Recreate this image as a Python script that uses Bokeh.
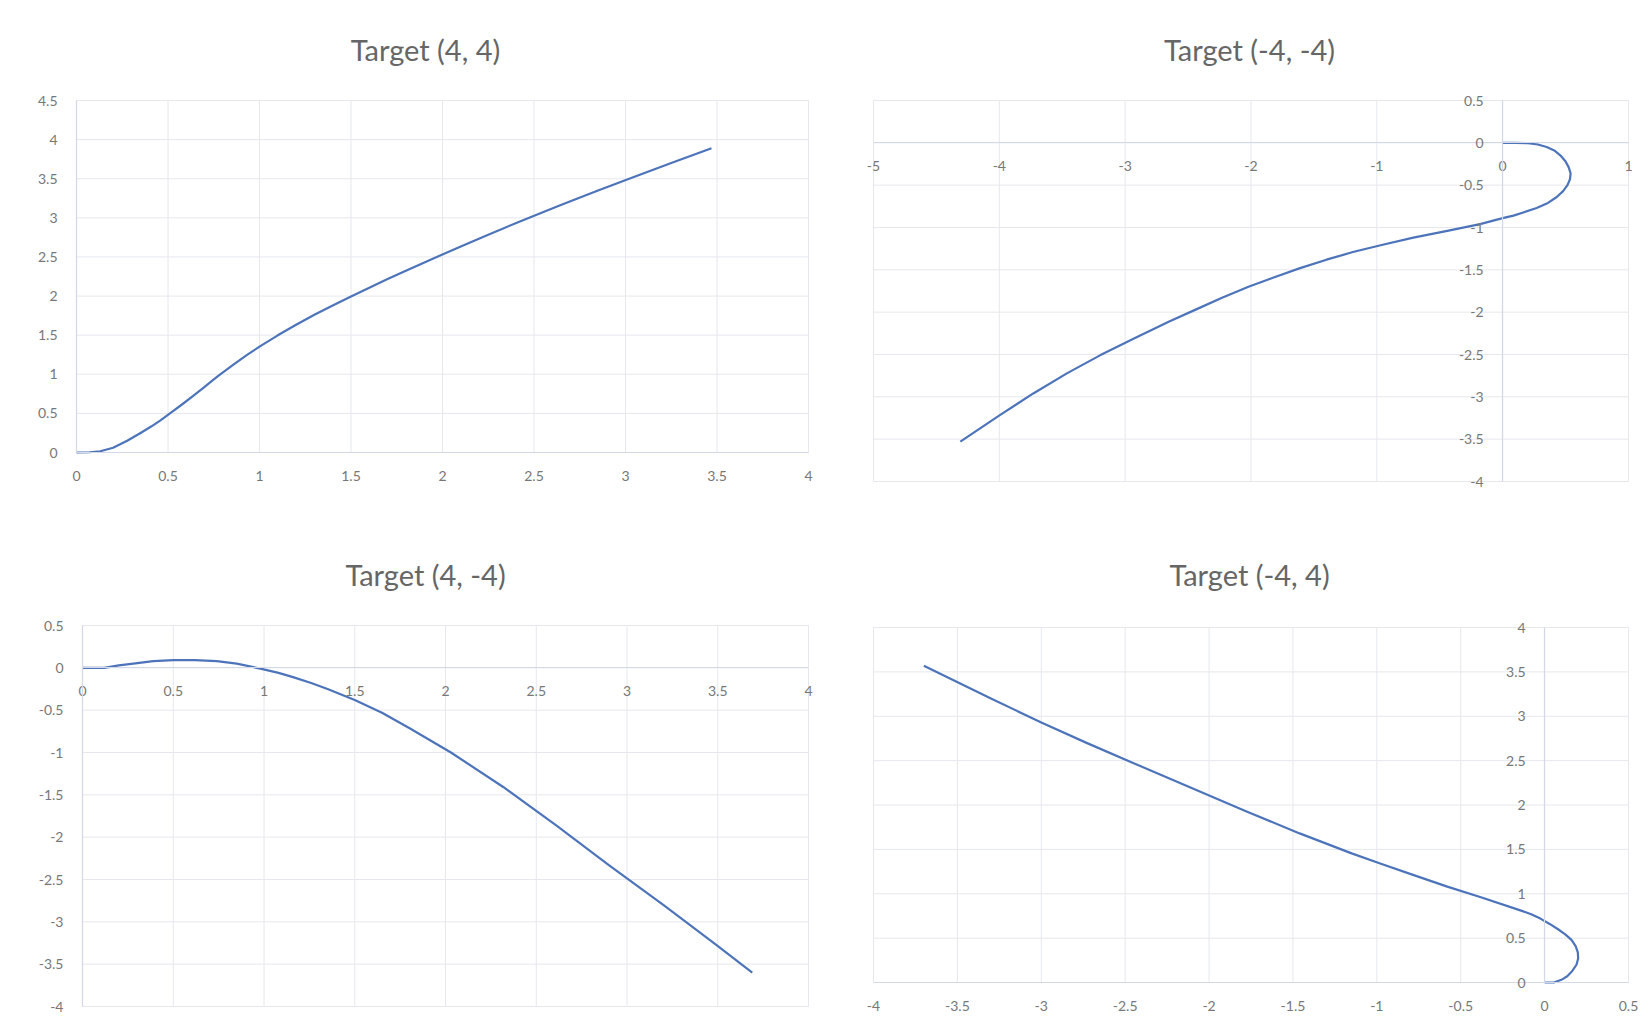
from bokeh.plotting import figure
from bokeh.layouts import column, row
from bokeh.models import Range1d, FixedTicker
from bokeh.embed import file_html
from bokeh.resources import INLINE

# ---------------- data ----------------
titles = ["Target (4, 4)", "Target (-4, -4)", "Target (4, -4)", "Target (-4, 4)"]

x1 = [0, 0.07, 0.13, 0.2, 0.277, 0.35, 0.41, 0.459, 0.52, 0.58, 0.641, 0.7, 0.74, 0.78, 0.85, 0.93,
      1.0, 1.1, 1.2, 1.3, 1.4, 1.5, 1.6, 1.7, 1.8, 1.95, 2.1, 2.25, 2.45, 2.65, 2.85, 3.02, 3.25, 3.47]
y1 = [0, 0.003, 0.016, 0.06, 0.15, 0.25, 0.335, 0.41, 0.515, 0.62, 0.73, 0.84, 0.915, 0.99, 1.11, 1.245,
      1.353, 1.498, 1.633, 1.76, 1.88, 1.995, 2.107, 2.217, 2.325, 2.48, 2.635, 2.785, 2.98, 3.168, 3.35, 3.5, 3.7, 3.89]

x2 = [0, 0.1, 0.2, 0.28, 0.35, 0.41, 0.46, 0.5, 0.525, 0.54, 0.535, 0.515, 0.48, 0.43, 0.36, 0.27,
      0.17, 0.086, 0, -0.18, -0.44, -0.71, -0.97, -1.19,
      -1.4, -1.61, -1.82, -2.02, -2.23, -2.44, -2.65, -2.93, -3.2, -3.46, -3.73, -3.99, -4.31]
y2 = [0, 0.0, -0.005, -0.02, -0.05, -0.09, -0.15, -0.22, -0.29, -0.36, -0.43, -0.5, -0.57, -0.64, -0.71, -0.77,
      -0.82, -0.86, -0.89, -0.96, -1.04, -1.12, -1.21, -1.29,
      -1.38, -1.48, -1.59, -1.7, -1.83, -1.97, -2.11, -2.31, -2.51, -2.72, -2.96, -3.21, -3.53]

x3 = [0, 0.12, 0.2, 0.28, 0.39, 0.5, 0.62, 0.74, 0.85, 0.98, 1.08, 1.16, 1.26, 1.35, 1.5, 1.65, 1.8,
      2.03, 2.32, 2.61, 2.9, 3.2, 3.49, 3.69]
y3 = [0, 0.0, 0.03, 0.05, 0.08, 0.09, 0.09, 0.08, 0.05, -0.01, -0.06, -0.11, -0.18, -0.25, -0.38, -0.53, -0.71,
      -1.0, -1.41, -1.86, -2.33, -2.8, -3.27, -3.6]

x4 = [0, 0.055, 0.1, 0.135, 0.165, 0.19, 0.2, 0.198, 0.185, 0.16, 0.125, 0.08, 0.03, -0.025, -0.08,
      -0.14, -0.38, -0.58, -0.78, -0.98, -1.15,
      -1.46, -1.78, -2.09, -2.4, -2.73, -3.0, -3.3, -3.7]
y4 = [0, 0.0, 0.03, 0.07, 0.13, 0.2, 0.27, 0.34, 0.41, 0.48, 0.54, 0.6, 0.66, 0.72, 0.77,
      0.81, 0.96, 1.08, 1.21, 1.34, 1.455,
      1.68, 1.93, 2.18, 2.43, 2.7, 2.93, 3.2, 3.57]

x1_ticks = [0, 0.5, 1, 1.5, 2, 2.5, 3, 3.5, 4]
x1_labels = ["0", "0.5", "1", "1.5", "2", "2.5", "3", "3.5", "4"]
y1_ticks = [0, 0.5, 1, 1.5, 2, 2.5, 3, 3.5, 4, 4.5]
y1_labels = ["0", "0.5", "1", "1.5", "2", "2.5", "3", "3.5", "4", "4.5"]

x2_ticks = [-5, -4, -3, -2, -1, 0, 1]
x2_labels = ["-5", "-4", "-3", "-2", "-1", "0", "1"]
y2_ticks = [-4, -3.5, -3, -2.5, -2, -1.5, -1, -0.5, 0, 0.5]
y2_labels = ["-4", "-3.5", "-3", "-2.5", "-2", "-1.5", "-1", "-0.5", "0", "0.5"]

x3_ticks = [0, 0.5, 1, 1.5, 2, 2.5, 3, 3.5, 4]
x3_labels = ["0", "0.5", "1", "1.5", "2", "2.5", "3", "3.5", "4"]
y3_ticks = [-4, -3.5, -3, -2.5, -2, -1.5, -1, -0.5, 0, 0.5]
y3_labels = ["-4", "-3.5", "-3", "-2.5", "-2", "-1.5", "-1", "-0.5", "0", "0.5"]

x4_ticks = [-4, -3.5, -3, -2.5, -2, -1.5, -1, -0.5, 0, 0.5]
x4_labels = ["-4", "-3.5", "-3", "-2.5", "-2", "-1.5", "-1", "-0.5", "0", "0.5"]
y4_ticks = [0, 0.5, 1, 1.5, 2, 2.5, 3, 3.5, 4]
y4_labels = ["0", "0.5", "1", "1.5", "2", "2.5", "3", "3.5", "4"]

# ---------------- style ----------------
FONT = "Lato"
LINE = "#4d74ba"
GRID = "#e6e8ee"
AXIS = "#d2d8e6"
TITLE_C = "#666666"
TICK_C = "#777777"


def lin(a, pa, b, pb, p):
    return a + (p - pa) * (b - a) / (pb - pa)


def make(title, xs, ys, xt, xl, yt, yl, w, h, top, px, py, tstand):
    # px: pixel columns of first / last x tick, py: pixel rows of first / last y tick
    x0, x1_ = xt[0], xt[-1]
    y0, y1_ = yt[0], yt[-1]
    xr = Range1d(lin(x0, px[0], x1_, px[1], 0), lin(x0, px[0], x1_, px[1], w))
    yr = Range1d(lin(y0, py[0], y1_, py[1], h), lin(y0, py[0], y1_, py[1], top))
    p = figure(width=w, height=h, x_range=xr, y_range=yr,
               output_backend="svg", toolbar_location=None,
               min_border_left=0, min_border_right=0, min_border_top=top, min_border_bottom=0)
    p.title.text = title
    p.title.align = "center"
    p.title.text_font = FONT
    p.title.text_font_size = "29px"
    p.title.text_font_style = "normal"
    p.title.text_color = TITLE_C
    p.title.standoff = tstand
    p.outline_line_color = None
    p.background_fill_color = "white"
    p.border_fill_color = "white"
    p.grid.visible = False

    # gridlines of the plot area, from the tick lists
    p.segment(x0=xt, y0=[y0] * len(xt), x1=xt, y1=[y1_] * len(xt), line_color=GRID, line_width=1)
    p.segment(x0=[x0] * len(yt), y0=yt, x1=[x1_] * len(yt), y1=yt, line_color=GRID, line_width=1)

    p.xaxis.ticker = FixedTicker(ticks=xt)
    p.yaxis.ticker = FixedTicker(ticks=yt)
    p.xaxis.major_label_overrides = {t: s for t, s in zip(xt, xl)}
    p.yaxis.major_label_overrides = {t: s for t, s in zip(yt, yl)}
    p.xaxis.bounds = (x0, x1_)
    p.yaxis.bounds = (y0, y1_)
    for ax in (p.xaxis, p.yaxis):
        ax.fixed_location = 0
        ax.axis_line_color = AXIS
        ax.axis_line_width = 1.2
        ax.major_tick_line_color = None
        ax.minor_tick_line_color = None
        ax.major_tick_out = 0
        ax.major_tick_in = 0
        ax.minor_tick_out = 0
        ax.minor_tick_in = 0
        ax.major_label_text_font = FONT
        ax.major_label_text_font_size = "14px"
        ax.major_label_text_color = TICK_C
    p.xaxis.major_label_standoff = 18
    p.yaxis.major_label_standoff = 19
    p.line(xs, ys, line_color=LINE, line_width=2.2, line_join="round")
    return p


p1 = make(titles[0], x1, y1, x1_ticks, x1_labels, y1_ticks, y1_labels,
          850, 513, 80, (76, 808), (452, 100), 28)
p2 = make(titles[1], x2, y2, x2_ticks, x2_labels, y2_ticks, y2_labels,
          798, 513, 80, (23, 778), (481, 100), 28)
p3 = make(titles[2], x3, y3, x3_ticks, x3_labels, y3_ticks, y3_labels,
          850, 507, 90, (82, 808), (493, 112), 23)
p4 = make(titles[3], x4, y4, x4_ticks, x4_labels, y4_ticks, y4_labels,
          798, 507, 90, (23, 778), (469, 114), 23)

layout = column(row(p1, p2), row(p3, p4))
open("out.html", "w").write(file_html(layout, INLINE))
